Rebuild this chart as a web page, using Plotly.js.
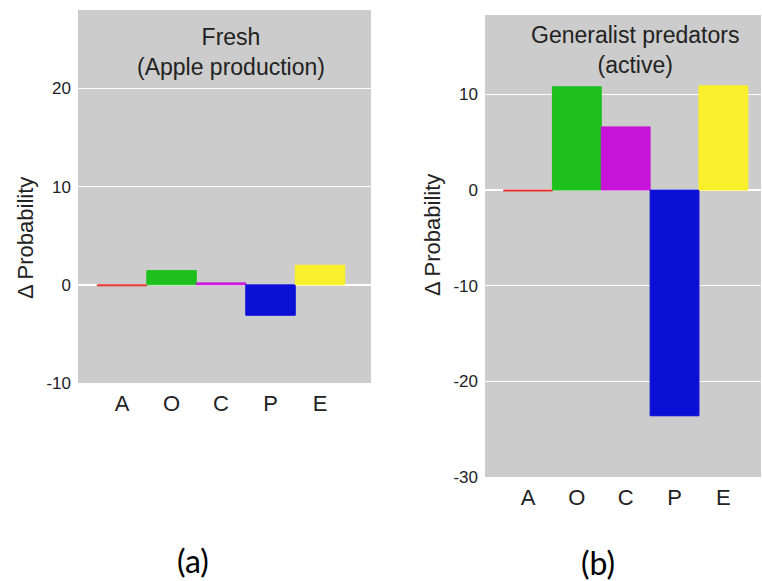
<!DOCTYPE html>
<html>
<head>
<meta charset="utf-8">
<script src="https://cdn.plot.ly/plotly-3.0.1.min.js"></script>
<style>html,body{margin:0;padding:0;background:#fff;}#chart{width:762px;height:581px;}</style>
</head>
<body>
<div id="chart"></div>
<script>
const categories = ['A', 'O', 'C', 'P', 'E'];
const freshValues = [-0.1, 1.45, 0.2, -3.1, 2.0];
const predatorValues = [-0.1, 10.8, 6.6, -23.6, 10.9];
const barColors = ['#e8322c', '#1ec01e', '#c814d8', '#0c10d6', '#f8f02a'];
const yTicksFresh = [-10, 0, 10, 20];
const yTickTextFresh = ['-10', '0', '10', '20'];
const yTicksPredators = [-30, -20, -10, 0, 10];
const yTickTextPredators = ['-30', '-20', '-10', '0', '10'];
const panelTitles = ['Fresh<br>(Apple production)', 'Generalist predators<br>(active)'];
const panelLabels = ['(a)', '(b)'];
const yTitle = '\u0394 Probability';

const W = 762, H = 581;
const px = x => x / W;
const py = y => 1 - y / H;

const tickFont = {family: 'Liberation Sans, Arial, sans-serif', size: 17, color: '#222'};
const catFont = {family: 'Liberation Sans, Arial, sans-serif', size: 22, color: '#222'};

function bar(vals, xa, ya) {
  return {
    type: 'bar', x: categories, y: vals, xaxis: xa, yaxis: ya,
    marker: {color: barColors, line: {color: barColors, width: 1}},
    hoverinfo: 'skip', showlegend: false
  };
}

const data = [bar(freshValues, 'x', 'y'), bar(predatorValues, 'x2', 'y2')];

const yBase = {
  showgrid: true, gridcolor: '#ffffff', gridwidth: 1.5,
  zeroline: true, zerolinecolor: '#ffffff', zerolinewidth: 1.5,
  showline: false, ticks: '', tickfont: tickFont, fixedrange: true,
  tickmode: 'array', ticklabelstandoff: 6
};
const xBase = {
  type: 'category', showgrid: false, zeroline: false, showline: false,
  ticks: '', tickfont: catFont, fixedrange: true, ticklabelstandoff: 5
};

const annFont = {family: 'Liberation Sans, Arial, sans-serif', size: 23, color: '#222'};
const layout = {
  width: W, height: H,
  margin: {l: 0, r: 0, t: 0, b: 0},
  paper_bgcolor: '#ffffff',
  plot_bgcolor: '#cccccc',
  bargap: 0,
  xaxis: Object.assign({}, xBase, {domain: [px(78), px(371)], range: [-0.89, 5.03], anchor: 'y'}),
  yaxis: Object.assign({}, yBase, {domain: [py(383), py(10)], range: [-10, 28], tickvals: yTicksFresh, ticktext: yTickTextFresh, anchor: 'x'}),
  xaxis2: Object.assign({}, xBase, {domain: [px(485), px(761)], range: [-0.88, 4.77], anchor: 'y2'}),
  yaxis2: Object.assign({}, yBase, {domain: [py(477), py(15)], range: [-30, 18.3], tickvals: yTicksPredators, ticktext: yTickTextPredators, anchor: 'x2'}),
  annotations: [
    {text: panelTitles[0], xref: 'paper', yref: 'paper', x: px(231), y: py(52), xanchor: 'center', yanchor: 'middle', showarrow: false, font: annFont},
    {text: panelTitles[1], xref: 'paper', yref: 'paper', x: px(635), y: py(50), xanchor: 'center', yanchor: 'middle', showarrow: false, font: annFont},
    {text: yTitle, xref: 'paper', yref: 'paper', x: px(25), y: py(238), xanchor: 'center', yanchor: 'middle', textangle: -90, showarrow: false, font: {family: 'Liberation Sans, Arial, sans-serif', size: 22, color: '#222'}},
    {text: yTitle, xref: 'paper', yref: 'paper', x: px(433), y: py(235), xanchor: 'center', yanchor: 'middle', textangle: -90, showarrow: false, font: {family: 'Liberation Sans, Arial, sans-serif', size: 22, color: '#222'}},
    {text: panelLabels[0], xref: 'paper', yref: 'paper', x: px(193), y: py(560), xanchor: 'center', yanchor: 'middle', showarrow: false, font: {family: 'Lato, Open Sans, sans-serif', size: 32, color: '#000'}},
    {text: panelLabels[1], xref: 'paper', yref: 'paper', x: px(598), y: py(562), xanchor: 'center', yanchor: 'middle', showarrow: false, font: {family: 'Lato, Open Sans, sans-serif', size: 32, color: '#000'}}
  ]
};

Plotly.newPlot('chart', data, layout, {displayModeBar: false, staticPlot: true});
</script>
</body>
</html>
